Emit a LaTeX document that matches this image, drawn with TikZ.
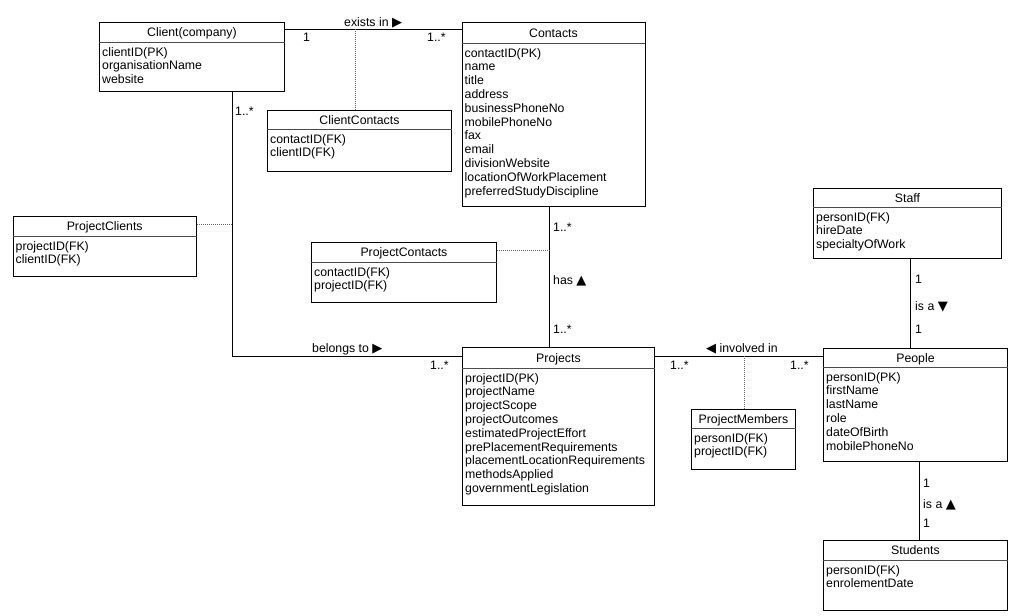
\documentclass[tikz,border=0pt]{standalone}
\usepackage{fontspec}
\setmainfont{Liberation Sans}
\newfontfamily\symfont{DejaVu Sans}
\newcommand\tri[1]{{\symfont\fontsize{13}{13}\selectfont #1}}
\tikzset{
 classbox/.style={draw=black, line width=0.9pt, fill=white, inner sep=0pt},
 headline/.style={draw=black!70, line width=0.9pt},
 titletext/.style={anchor=base, inner sep=0pt, font=\fontsize{12.3}{13.8}\selectfont},
 attrtext/.style={anchor=north west, inner sep=0pt, align=left, font=\fontsize{12.3}{13.8}\selectfont},
 conn/.style={line width=0.9pt},
 assoc/.style={draw=black!60, line width=0.7pt, dash pattern=on 1pt off 1pt},
 lbl/.style={anchor=base west, inner sep=0pt, font=\fontsize{12.3}{13.8}\selectfont},
}
\newcommand\umlclass[8]{%
 \node[classbox, minimum width=#4pt, minimum height=#5pt, anchor=north west] (#1) at (#2,#3) {};
 \draw[headline] ([yshift=-#6pt]#1.north west) -- ([yshift=-#6pt]#1.north east);
 \node[titletext] (#1-t) at ([yshift={-(#6*0.5+4.8)*1pt}]#1.north) {#7};
 \node[attrtext] (#1-a) at ([xshift=3pt,yshift={-(#6+4.2)*1pt}]#1.north west) {\strut #8};
}
\begin{document}
\begin{tikzpicture}[x=1pt,y=-1pt]
\useasboundingbox[fill=white] (0,0) rectangle (1024,615);

\umlclass{client}{99}{22}{185}{69}{20}{Client(company)}{clientID(PK)\\organisationName\\website}
\umlclass{contacts}{461.5}{22}{183}{184}{21}{Contacts}{contactID(PK)\\name\\title\\address\\businessPhoneNo\\mobilePhoneNo\\fax\\email\\divisionWebsite\\locationOfWorkPlacement\\preferredStudyDiscipline}
\umlclass{clientcontacts}{267}{110}{184}{61}{19}{ClientContacts}{contactID(FK)\\clientID(FK)}
\umlclass{projectclients}{12.5}{216}{183.5}{60}{20}{ProjectClients}{projectID(FK)\\clientID(FK)}
\umlclass{projectcontacts}{311}{242}{185}{60}{20}{ProjectContacts}{contactID(FK)\\projectID(FK)}
\umlclass{projects}{462}{347}{192}{158}{21}{Projects}{projectID(PK)\\projectName\\projectScope\\projectOutcomes\\estimatedProjectEffort\\prePlacementRequirements\\placementLocationRequirements\\methodsApplied\\governmentLegislation}
\umlclass{projectmembers}{691}{409}{104}{60}{19}{ProjectMembers}{personID(FK)\\projectID(FK)}
\umlclass{staff}{813}{188}{188}{70}{19}{Staff}{personID(FK)\\hireDate\\specialtyOfWork}
\umlclass{people}{823}{348}{184}{113}{19}{People}{personID(PK)\\firstName\\lastName\\role\\dateOfBirth\\mobilePhoneNo}
\umlclass{students}{823}{540}{184}{70}{20}{Students}{personID(FK)\\enrolementDate}

% connectors
\coordinate (clco) at ([yshift=-7pt]client.north east);
\draw[conn] (clco) -- (clco -| contacts.west);
\draw[assoc] ([xshift=-4pt]clientcontacts.north) -- ([xshift=-4pt]clientcontacts.north |- clco);
\coordinate (clpr) at ([xshift=40.5pt]client.south);
\draw[conn] (clpr) |- ([yshift=-9pt]projects.north west);
\draw[assoc] ([yshift=-8pt]projectclients.north east) -- ([yshift=-8pt]projectclients.north east -| clpr);
\coordinate (copr) at ([xshift=-4pt]contacts.south);
\draw[conn] (copr) -- (copr |- projects.north);
\draw[assoc] ([yshift=-8pt]projectcontacts.north east) -- ([yshift=-8pt]projectcontacts.north east -| copr);
\coordinate (prpe) at ([yshift=-9pt]projects.north east);
\draw[conn] (prpe) -- (prpe -| people.west);
\draw[assoc] ([xshift=1pt]projectmembers.north) -- ([xshift=1pt]projectmembers.north |- prpe);
\coordinate (stpe) at ([xshift=3pt]staff.south);
\draw[conn] (stpe) -- (stpe |- people.north);
\coordinate (pest) at ([xshift=4pt]people.south);
\draw[conn] (pest) -- (pest |- students.north);

% labels
\node[lbl] (l-exists) at (344,27) {exists in \tri{▶}};
\node[lbl] (l-m1) at (303,42) {1};
\node[lbl] (l-m2) at (427,42) {1..*};
\node[lbl] (l-m3) at (235,116) {1..*};
\node[lbl] (l-belongs) at (312,352) {belongs to \tri{▶}};
\node[lbl] (l-m4) at (430,369) {1..*};
\node[lbl] (l-m5) at (553,231) {1..*};
\node[lbl] (l-has) at (553,284) {has \tri{▲}};
\node[lbl] (l-m6) at (553,333) {1..*};
\node[lbl] (l-involved) at (706,352) {\tri{◀} involved in};
\node[lbl] (l-m7) at (670,369) {1..*};
\node[lbl] (l-m8) at (790,369) {1..*};
\node[lbl] (l-m9) at (915,283) {1};
\node[lbl] (l-isa1) at (915,310) {is a \tri{▼}};
\node[lbl] (l-m10) at (915,333) {1};
\node[lbl] (l-m11) at (923,487) {1};
\node[lbl] (l-isa2) at (923,508) {is a \tri{▲}};
\node[lbl] (l-m12) at (923,527) {1};
\end{tikzpicture}
\end{document}
